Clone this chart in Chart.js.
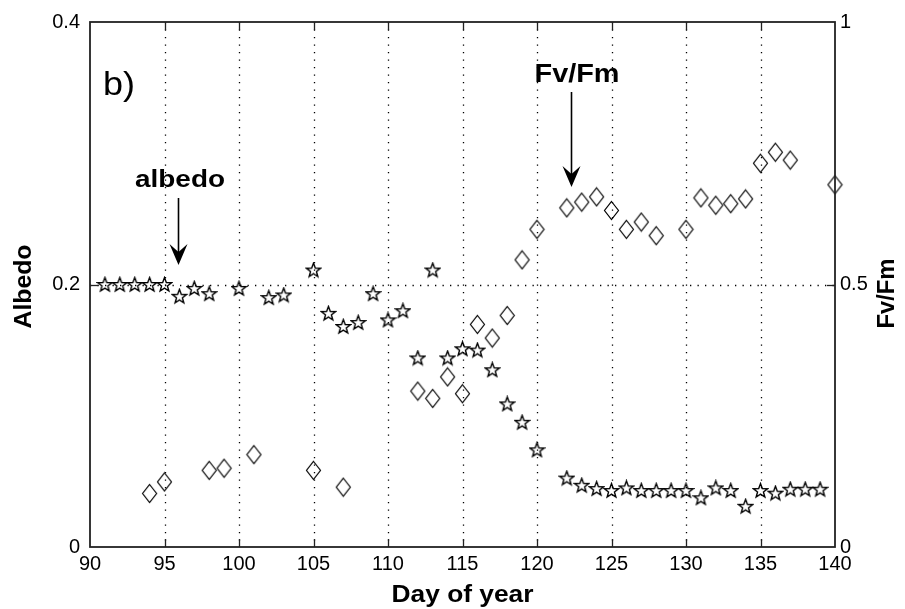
<!DOCTYPE html>
<html>
<head>
<meta charset="utf-8">
<script src="https://cdn.jsdelivr.net/npm/chart.js@4/dist/chart.umd.min.js"></script>
<style>
  html, body { margin: 0; padding: 0; background: #fff; }
  canvas { display: block; }
</style>
</head>
<body>
<canvas id="chart" width="905" height="609"></canvas>
<script>
// Surface albedo (left axis) by day of year
const albedoDays = [91, 92, 93, 94, 95, 96, 97, 98, 100, 102, 103,
  105, 106, 107, 108, 109, 110, 111, 112, 113, 114, 115, 116, 117, 118, 119, 120,
  122, 123, 124, 125, 126, 127, 128, 129, 130, 131, 132, 133, 134, 135, 136, 137, 138, 139];
const albedoValues = [0.200, 0.200, 0.200, 0.200, 0.200, 0.191, 0.197, 0.193, 0.197, 0.190, 0.192,
  0.211, 0.178, 0.168, 0.171, 0.193, 0.173, 0.180, 0.144, 0.211, 0.144, 0.151, 0.150, 0.135, 0.109, 0.095, 0.074,
  0.0525, 0.047, 0.0445, 0.043, 0.045, 0.043, 0.043, 0.043, 0.043, 0.0375, 0.045, 0.043, 0.031, 0.043, 0.041, 0.044, 0.044, 0.044];

// Photosynthetic efficiency Fv/Fm (right axis) by day of year
const fvfmDays = [94, 95, 98, 99, 101, 105, 107, 112, 113, 114, 115, 116, 117, 118, 119, 120,
  122, 123, 124, 125, 126, 127, 128, 130, 131, 132, 133, 134, 135, 136, 137, 140];
const fvfmValues = [0.102, 0.124, 0.146, 0.150, 0.176, 0.146, 0.114, 0.297, 0.283, 0.324, 0.292, 0.424, 0.398, 0.441, 0.547, 0.605,
  0.646, 0.657, 0.667, 0.641, 0.605, 0.619, 0.593, 0.605, 0.665, 0.651, 0.654, 0.663, 0.731, 0.752, 0.737, 0.690];

// Axis ticks
const dayTicks = [90, 95, 100, 105, 110, 115, 120, 125, 130, 135, 140];
const albedoTicks = [0, 0.2, 0.4];
const fvfmTicks = [0, 0.5, 1];

const FONT = '"Liberation Sans", Arial, Helvetica, sans-serif';

// Outlined five-pointed star marker
function makeStar() {
  const c = document.createElement('canvas');
  c.width = 17; c.height = 17;
  const g = c.getContext('2d');
  g.beginPath();
  for (let i = 0; i < 10; i++) {
    const a = -Math.PI / 2 + i * Math.PI / 5;
    const r = (i % 2) ? 3.1 : 7.4;
    const px = 8.5 + r * Math.cos(a), py = 9 + r * Math.sin(a);
    if (i === 0) g.moveTo(px, py); else g.lineTo(px, py);
  }
  g.closePath();
  g.strokeStyle = '#000';
  g.lineWidth = 1.4;
  g.stroke();
  return c;
}

// Outlined diamond marker, slightly taller than wide
function makeDiamond() {
  const c = document.createElement('canvas');
  c.width = 17; c.height = 21;
  const g = c.getContext('2d');
  g.beginPath();
  g.moveTo(8.5, 1.5);
  g.lineTo(15.5, 10.5);
  g.lineTo(8.5, 19.5);
  g.lineTo(1.5, 10.5);
  g.closePath();
  g.strokeStyle = '#000';
  g.lineWidth = 1.2;
  g.stroke();
  return c;
}

const toPoints = (xs, ys) => xs.map((x, i) => ({ x: x, y: ys[i] }));

// Draw text stretched to a given width
function fitText(ctx, text, font, cx, baseline, width, rotate) {
  ctx.save();
  ctx.font = font;
  ctx.fillStyle = '#000';
  ctx.textBaseline = 'alphabetic';
  ctx.textAlign = 'center';
  const w = ctx.measureText(text).width;
  ctx.translate(cx, baseline);
  if (rotate) ctx.rotate(-Math.PI / 2);
  ctx.scale(width / w, 1);
  ctx.fillText(text, 0, 0);
  ctx.restore();
}

// Downward arrow with a notched head
function arrow(ctx, x, yStart, yTip) {
  ctx.save();
  ctx.strokeStyle = '#000';
  ctx.fillStyle = '#000';
  ctx.lineWidth = 1.6;
  ctx.beginPath();
  ctx.moveTo(x, yStart);
  ctx.lineTo(x, yTip - 8);
  ctx.stroke();
  ctx.beginPath();
  ctx.moveTo(x, yTip);
  ctx.lineTo(x - 9, yTip - 21);
  ctx.lineTo(x, yTip - 13);
  ctx.lineTo(x + 9, yTip - 21);
  ctx.closePath();
  ctx.fill();
  ctx.restore();
}

const framePlugin = {
  id: 'frame',
  beforeDatasetsDraw(chart) {
    const { ctx, chartArea: a, scales } = chart;
    const xs = scales.x, ys = scales.y;
    ctx.save();
    // dotted grid
    ctx.strokeStyle = '#000';
    ctx.lineWidth = 1.3;
    ctx.setLineDash([1.3, 6.2]);
    dayTicks.slice(1, -1).forEach(d => {
      const px = Math.round(xs.getPixelForValue(d)) + 0.5;
      ctx.beginPath(); ctx.moveTo(px, a.top); ctx.lineTo(px, a.bottom); ctx.stroke();
    });
    albedoTicks.slice(1, -1).forEach(v => {
      const py = Math.round(ys.getPixelForValue(v)) + 0.5;
      ctx.beginPath(); ctx.moveTo(a.left, py); ctx.lineTo(a.right, py); ctx.stroke();
    });
    ctx.setLineDash([]);
    // inward tick marks
    ctx.strokeStyle = '#222';
    ctx.lineWidth = 1.3;
    const tl = 8;
    dayTicks.slice(1, -1).forEach(d => {
      const px = Math.round(xs.getPixelForValue(d)) + 0.5;
      ctx.beginPath();
      ctx.moveTo(px, a.bottom); ctx.lineTo(px, a.bottom - tl);
      ctx.moveTo(px, a.top); ctx.lineTo(px, a.top + tl);
      ctx.stroke();
    });
    albedoTicks.slice(1, -1).forEach(v => {
      const py = Math.round(ys.getPixelForValue(v)) + 0.5;
      ctx.beginPath(); ctx.moveTo(a.left, py); ctx.lineTo(a.left + tl, py); ctx.stroke();
    });
    fvfmTicks.slice(1, -1).forEach(v => {
      const py = Math.round(scales.y2.getPixelForValue(v)) + 0.5;
      ctx.beginPath(); ctx.moveTo(a.right, py); ctx.lineTo(a.right - tl, py); ctx.stroke();
    });
    ctx.restore();
  },
  afterDatasetsDraw(chart) {
    const { ctx, chartArea: a } = chart;
    ctx.save();
    ctx.strokeStyle = '#222';
    ctx.lineWidth = 1.8;
    ctx.strokeRect(a.left, a.top, a.right - a.left, a.bottom - a.top);
    ctx.restore();
  },
  afterDraw(chart) {
    const { ctx, chartArea: a } = chart;
    // axis titles
    fitText(ctx, 'Albedo', 'bold 24px ' + FONT, 31, (a.top + a.bottom) / 2 + 2, 84, true);
    fitText(ctx, 'Fv/Fm', 'bold 24px ' + FONT, 894, (a.top + a.bottom) / 2 + 9, 70, true);
    fitText(ctx, 'Day of year', 'bold 24px ' + FONT, (a.left + a.right) / 2, 602, 142, false);
    // panel label and annotations
    fitText(ctx, 'b)', '34px ' + FONT, 119, 95, 32, false);
    fitText(ctx, 'albedo', 'bold 23px ' + FONT, 180, 187, 90, false);
    arrow(ctx, 178.5, 198, 265);
    fitText(ctx, 'Fv/Fm', 'bold 26px ' + FONT, 577, 82, 85, false);
    arrow(ctx, 571.5, 92, 187);
  }
};

const fmt = v => String(+Number(v).toFixed(2));

new Chart(document.getElementById('chart'), {
  type: 'scatter',
  data: {
    datasets: [
      {
        label: 'albedo',
        data: toPoints(albedoDays, albedoValues),
        yAxisID: 'y',
        pointStyle: makeStar(),
        clip: false
      },
      {
        label: 'Fv/Fm',
        data: toPoints(fvfmDays, fvfmValues),
        yAxisID: 'y2',
        pointStyle: makeDiamond(),
        clip: false
      }
    ]
  },
  options: {
    responsive: false,
    devicePixelRatio: 1,
    animation: false,
    layout: { padding: { top: 19, left: 0, right: 0, bottom: 0 } },
    plugins: { legend: { display: false }, tooltip: { enabled: false } },
    scales: {
      x: {
        type: 'linear', position: 'bottom', min: 90, max: 140,
        afterBuildTicks: s => { s.ticks = dayTicks.map(v => ({ value: v })); },
        ticks: { font: { family: FONT, size: 20 }, color: '#000', padding: 5, maxRotation: 0, callback: fmt },
        grid: { display: false, drawTicks: false },
        border: { display: false },
        afterFit: s => { s.height = 62; }
      },
      y: {
        type: 'linear', position: 'left', min: 0, max: 0.4,
        afterBuildTicks: s => { s.ticks = albedoTicks.map(v => ({ value: v })); },
        ticks: { font: { family: FONT, size: 20 }, color: '#000', padding: 10, callback: fmt },
        grid: { display: false, drawTicks: false },
        border: { display: false },
        afterFit: s => { s.width = 90; }
      },
      y2: {
        type: 'linear', position: 'right', min: 0, max: 1,
        afterBuildTicks: s => { s.ticks = fvfmTicks.map(v => ({ value: v })); },
        ticks: { font: { family: FONT, size: 20 }, color: '#000', padding: 5, callback: fmt },
        grid: { display: false, drawTicks: false },
        border: { display: false },
        afterFit: s => { s.width = 70; }
      }
    }
  },
  plugins: [framePlugin]
});
</script>
</body>
</html>
